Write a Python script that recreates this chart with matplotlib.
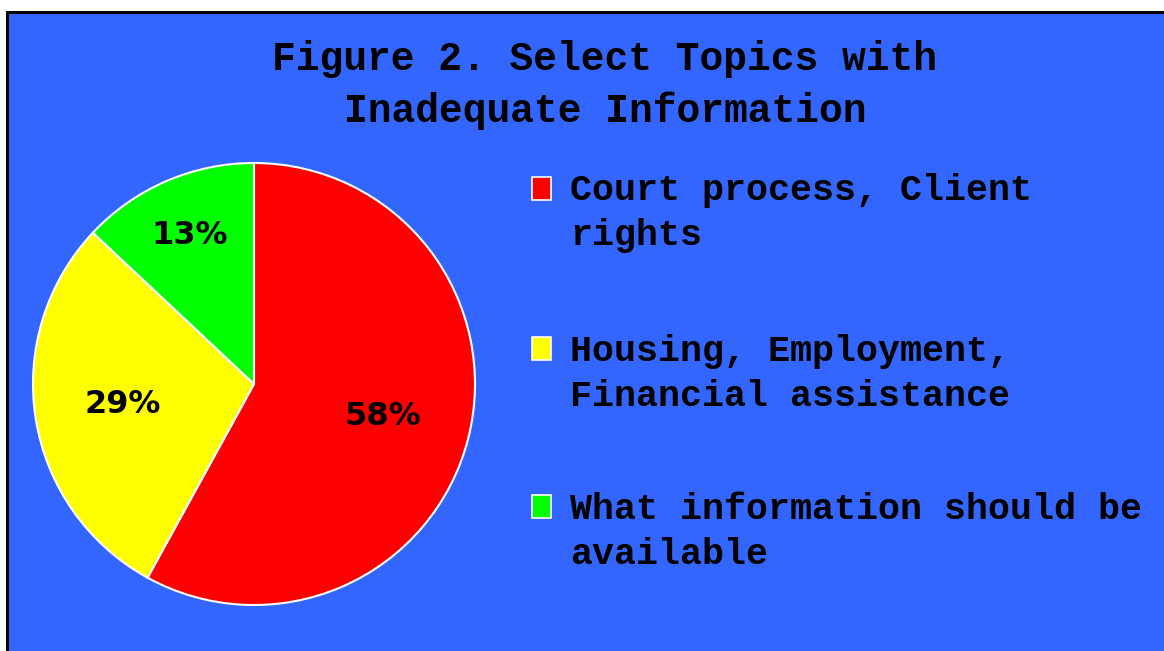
import matplotlib
matplotlib.use("Agg")
import matplotlib.pyplot as plt
from matplotlib.patches import Rectangle
import numpy as np

# Data
categories = ["Court process, Client\nrights",
              "Housing, Employment,\nFinancial assistance",
              "What information should be\navailable"]
values = [58, 29, 13]
colors = ["#FF0000", "#FFFF00", "#00FF00"]
title_text = "Figure 2. Select Topics with\nInadequate Information"

W, H = 1164, 651
fig = plt.figure(figsize=(W / 100, H / 100), dpi=100, facecolor="white")

# Background panel with black border
bg = Rectangle((7 / W, -0.02), 1.2, (H - 12) / H + 0.02, transform=fig.transFigure,
               facecolor="#3366FF", edgecolor="black", linewidth=2.2, zorder=-5)
fig.patches.append(bg)

# Pie axes
cx, cy, r = 254, 384, 221
ax = fig.add_axes([(cx - r) / W, (H - cy - r) / H, 2 * r / W, 2 * r / H], zorder=2)
ax.set_facecolor("none")
wedges, _ = ax.pie(values, colors=colors, startangle=90, counterclock=False,
                   wedgeprops=dict(edgecolor="white", linewidth=1.5), radius=1.0)
ax.set_xlim(-1.0, 1.0)
ax.set_ylim(-1.0, 1.0)
ax.set_aspect("equal")
ax.axis("off")

label_dist = [0.6, 0.6, 0.73]
for w, v, d in zip(wedges, values, label_dist):
    ang = np.deg2rad((w.theta1 + w.theta2) / 2)
    ax.text(d * np.cos(ang), d * np.sin(ang), f"{v}%", ha="center", va="center",
            fontsize=23, fontweight="bold", family="DejaVu Sans", color="black")

# Title
fig.text(605 / W, 1 - 85 / H, title_text, ha="center", va="center",
         fontsize=28.5, fontweight="bold", family="Liberation Mono",
         linespacing=1.47, color="black")

# Legend (manual)
line_centers = [213, 374, 532]
box_tops = [177, 337, 495]
for lab, col, yc, bt in zip(categories, colors, line_centers, box_tops):
    fig.patches.append(Rectangle((532 / W, 1 - (bt + 23) / H), 19 / W, 23 / H,
                                 transform=fig.transFigure, facecolor=col,
                                 edgecolor="white", linewidth=1.2, zorder=2))
    fig.text(570 / W, 1 - yc / H, lab, ha="left", va="center",
             fontsize=26.4, fontweight="bold", family="Liberation Mono",
             linespacing=1.37, color="black")

fig.savefig("out.png", dpi=100, facecolor=fig.get_facecolor())
